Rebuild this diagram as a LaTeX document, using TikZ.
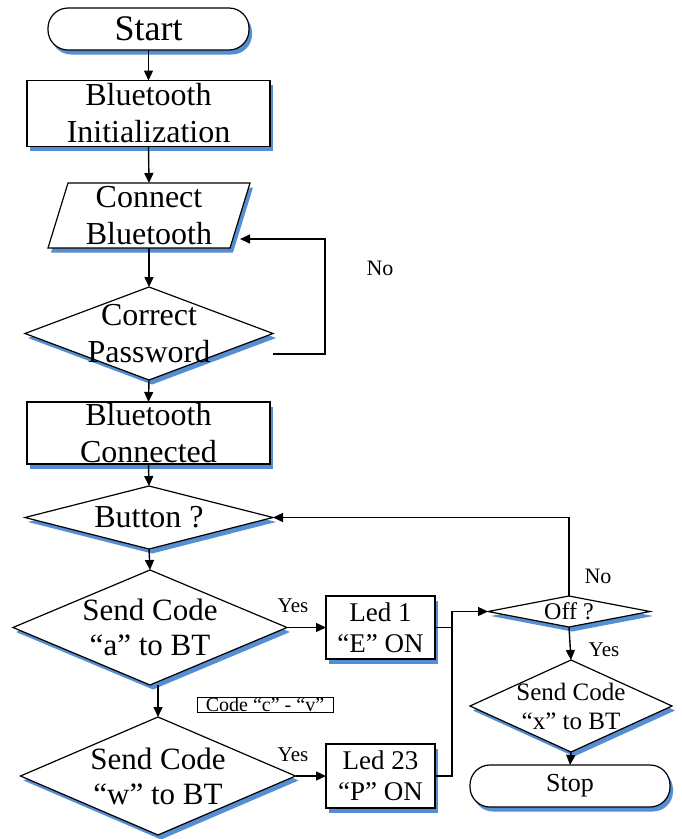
\documentclass[tikz,border=0pt]{standalone}
\usepackage{fontspec}
\setmainfont{Liberation Serif}
\usetikzlibrary{shapes.geometric,shadows,arrows.meta,calc}
\definecolor{shblue}{RGB}{86,142,212}
\tikzset{
  base/.style={draw=black, line width=1.2pt, fill=white, inner sep=0pt, outer sep=0pt,
    general shadow={fill=shblue, shadow xshift=3pt, shadow yshift=-4.5pt}},
  term/.style={base, rectangle, rounded corners=20pt},
  boxnode/.style={base, rectangle},
  dia/.style={base, diamond},
  big/.style={align=center, inner sep=0pt, font=\fontsize{32}{37}\selectfont},
  mid/.style={align=center, inner sep=0pt, font=\fontsize{27}{31}\selectfont},
  sml/.style={align=center, inner sep=0pt, font=\fontsize{25}{29}\selectfont},
  arr/.style={line width=1.4pt, -{Triangle[length=10pt,width=9pt]}},
  ln/.style={line width=1.4pt},
  lbl/.style={inner sep=0pt, font=\fontsize{21}{24}\selectfont},
}
\begin{document}
\begin{tikzpicture}[x=1pt,y=-1pt]
\useasboundingbox (0,0) rectangle (682,839);
% nodes
\node[term, minimum width=201pt, minimum height=42pt,
  label={[big, font=\fontsize{36}{40}\selectfont]center:Start}] (start) at (148.5,29) {};
\node[boxnode, minimum width=243pt, minimum height=66pt,
  label={[big]center:{Bluetooth\\Initialization}}] (init) at (148.5,113.5) {};
% parallelogram (input/output)
\node[inner sep=0pt, outer sep=0pt, minimum width=202pt, minimum height=65pt] (conn) at (149,215.5) {};
\fill[shblue] ($(conn.north west)+(23,4.5)$) -- ($(conn.north east)+(3,4.5)$)
  -- ($(conn.south east)+(-17,4.5)$) -- ($(conn.south west)+(3,4.5)$) -- cycle;
\draw[line width=1.2pt, fill=white] ($(conn.north west)+(20,0)$) -- (conn.north east)
  -- ($(conn.south east)+(-20,0)$) -- (conn.south west) -- cycle;
\node[big] (conntext) at (conn.center) {Connect\\Bluetooth};
\node[dia, minimum width=248pt, minimum height=93pt,
  label={[big]center:{Correct\\Password}}] (pw) at (149,333.5) {};
\node[boxnode, minimum width=243pt, minimum height=62pt,
  label={[big]center:{Bluetooth\\Connected}}] (btc) at (148.5,433) {};
\node[dia, minimum width=248pt, minimum height=63pt,
  label={[big]center:{Button ?}}] (btn) at (149,517.5) {};
\node[dia, minimum width=274pt, minimum height=115pt,
  label={[big, font=\fontsize{31}{35}\selectfont]center:{Send Code\\“a” to BT}}] (sa) at (150,627.5) {};
\node[dia, minimum width=275pt, minimum height=118pt,
  label={[big, font=\fontsize{31}{35}\selectfont]center:{Send Code\\“w” to BT}}] (sw) at (158,776) {};
\node[draw=black, line width=0.9pt, minimum width=136pt, minimum height=15pt, inner sep=0pt,
  font=\fontsize{20}{20}\selectfont] (code) at (265,705) {\raisebox{-1pt}{Code “c” - “v”}};
\node[boxnode, minimum width=109pt, minimum height=63pt,
  label={[mid]center:{Led 1\\“E” ON}}] (led1) at (380.5,627.5) {};
\node[boxnode, minimum width=109pt, minimum height=64pt,
  label={[mid]center:{Led 23\\“P” ON}}] (led23) at (380.5,776) {};
\node[dia, minimum width=162pt, minimum height=31pt,
  label={[sml, font=\fontsize{24}{28}\selectfont]center:{Off ?}}] (off) at (569,611.5) {};
\node[dia, minimum width=202pt, minimum height=92pt,
  label={[sml]center:{Send Code\\“x” to BT}}] (sx) at (571,706) {};
\node[term, minimum width=200pt, minimum height=42pt,
  label={[sml, font=\fontsize{26}{30}\selectfont]center:Stop}] (stop) at (570,786) {};
% labels
\node[lbl, font=\fontsize{22}{24}\selectfont] (no1) at (380,268) {No};
\node[lbl, font=\fontsize{22}{24}\selectfont] (no2) at (598,576) {No};
\node[lbl] (yes1) at (293,606) {Yes};
\node[lbl] (yes2) at (293,755) {Yes};
\node[lbl] (yes3) at (604,650) {Yes};
% helper coordinates
\coordinate (pwout) at (273,354);
\coordinate (connin) at (240,239);
\coordinate (junc) at (452,611.5);
% connectors
\draw[arr] (start.south) -- (init.north);
\draw[arr] (init.south) -- (conn.north);
\draw[arr] (conn.south) -- (pw.north);
\draw[arr] (pwout) -- (325,354) -- (325,239) -- (connin);
\draw[arr] (pw.south) -- (btc.north);
\draw[arr] (btc.south) -- (btn.north);
\draw[arr] (btn.south) -- (sa.north);
\draw[arr] (sa.south -| sw.north) -- (sw.north);
\draw[arr] (sa.east) -- (led1.west);
\draw[arr] (sw.east) -- (led23.west);
\draw[arr] (led1.east) -| (junc) -- (off.west);
\draw[ln] (led23.east) -| (junc);
\draw[arr] (off.north) |- (btn.east);
\draw[arr] (off.south) -- (sx.north);
\draw[arr] (sx.south) -- (stop.north);
\end{tikzpicture}
\end{document}
